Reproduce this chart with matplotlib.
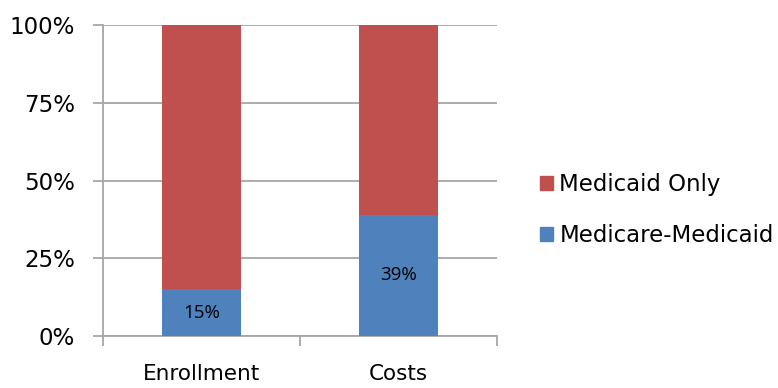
import matplotlib
matplotlib.use("Agg")
import matplotlib.pyplot as plt
from matplotlib.patches import Patch
import numpy as np

categories = ["Enrollment", "Costs"]
medicare_medicaid = [15, 39]
medicaid_only = [85, 61]
series_names = ["Medicaid Only", "Medicare-Medicaid"]
yticks = [0, 25, 50, 75, 100]
ytick_labels = ["0%", "25%", "50%", "75%", "100%"]

red = "#C0504D"
blue = "#4F81BD"
grid = "#A6A6A6"

fig = plt.figure(figsize=(7.78, 3.88), dpi=100)
ax = fig.add_axes([103/778, 1-336/388, (497-103)/778, (336-25)/388])

x = np.arange(len(categories))
w = 0.4
ax.bar(x, medicare_medicaid, width=w, color=blue, zorder=3)
ax.bar(x, medicaid_only, width=w, bottom=medicare_medicaid, color=red, zorder=3)

for xi, v in zip(x, medicare_medicaid):
    ax.text(xi, v/2, f"{v}%", ha="center", va="center", fontsize=13.5,
            family="Open Sans", color="black", zorder=4)

ax.set_xlim(-0.5, len(categories)-0.5)
ax.set_ylim(0, 100)
ax.set_yticks(yticks)
ax.set_yticklabels(ytick_labels, fontsize=16.5, family="DejaVu Sans")
ax.set_xticks(x)
ax.set_xticklabels(categories, fontsize=15.5, family="DejaVu Sans")
ax.set_xticks(np.arange(-0.5, len(categories)), minor=True)
ax.tick_params(axis="x", which="major", length=0, pad=20)
ax.tick_params(axis="x", which="minor", length=7, width=1.3, color=grid)
ax.tick_params(axis="y", length=7, width=1.3, color=grid, pad=13)
ax.yaxis.grid(True, color=grid, linewidth=1.3, zorder=0)
ax.set_axisbelow(True)
for s in ["top", "right"]:
    ax.spines[s].set_visible(False)
for s in ["left", "bottom"]:
    ax.spines[s].set_color(grid)
    ax.spines[s].set_linewidth(1.3)

handles = [Patch(color=red, label=series_names[0]), Patch(color=blue, label=series_names[1])]
fig.legend(handles=handles, loc="center left", bbox_to_anchor=(540/778, 1-210/388),
           frameon=False, fontsize=16.5, handlelength=0.55, handleheight=0.55,
           handletextpad=0.3, labelspacing=1.2, borderaxespad=0, borderpad=0)

fig.savefig("out.png", dpi=100)
